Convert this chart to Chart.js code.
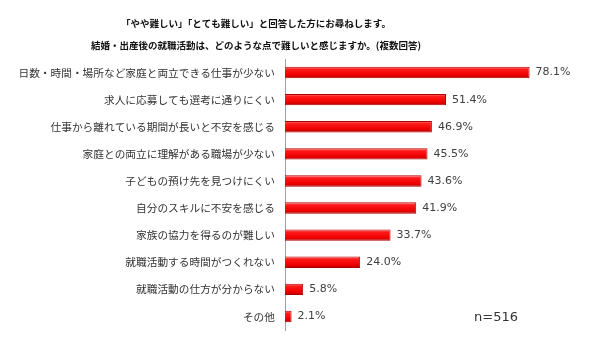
<!DOCTYPE html>
<html><head><meta charset="utf-8">
<script src="https://cdn.jsdelivr.net/npm/chart.js@4/dist/chart.umd.min.js"></script>
<style>html,body{margin:0;padding:0;background:#fff}#wrap{width:590px;height:352px}</style>
</head><body><div id="wrap"><canvas id="c" width="590" height="352"></canvas></div>
<script>
const categories = [
  "日数・時間・場所など家庭と両立できる仕事が少ない",
  "求人に応募しても選考に通りにくい",
  "仕事から離れている期間が長いと不安を感じる",
  "家庭との両立に理解がある職場が少ない",
  "子どもの預け先を見つけにくい",
  "自分のスキルに不安を感じる",
  "家族の協力を得るのが難しい",
  "就職活動する時間がつくれない",
  "就職活動の仕方が分からない",
  "その他"
];
const values = [78.1, 51.4, 46.9, 45.5, 43.6, 41.9, 33.7, 24.0, 5.8, 2.1];
const titleLines = [
  "「やや難しい」「とても難しい」と回答した方にお尋ねします。",
  "結婚・出産後の就職活動は、どのような点で難しいと感じますか。(複数回答)"
];
const sampleNote = "n=516";
const JP = '"Noto Sans CJK JP", "Noto Sans", sans-serif';

const textPlugin = {
  id: 'texts',
  afterDraw(chart) {
    const ctx = chart.ctx;
    const meta = chart.getDatasetMeta(0);
    ctx.save();
    ctx.font = 'bold 9.5px ' + JP;
    ctx.fillStyle = '#111';
    ctx.textAlign = 'center';
    ctx.textBaseline = 'middle';
    ctx.fillText(titleLines[0], 256, 23);
    ctx.fillText(titleLines[1], 256, 45);
    ctx.font = '11px "DejaVu Sans", Verdana, sans-serif';
    ctx.fillStyle = '#404040';
    ctx.textAlign = 'left';
    meta.data.forEach((bar, i) => {
      ctx.fillText(values[i].toFixed(1) + '%', bar.x + 6, bar.y);
    });
    const last = meta.data[meta.data.length - 1];
    ctx.font = '13px "DejaVu Sans", Verdana, sans-serif';
    ctx.fillStyle = '#333';
    ctx.fillText(sampleNote, 474, last.y + 1);
    ctx.restore();
  }
};

function barFill(context) {
  const chart = context.chart;
  const ys = chart.scales && chart.scales.y;
  if (!ys || context.dataIndex === undefined) return '#f20d0d';
  const yc = ys.getPixelForValue(context.dataIndex);
  if (!isFinite(yc)) return '#f20d0d';
  const g = chart.ctx.createLinearGradient(0, yc - 6, 0, yc + 6);
  g.addColorStop(0, '#ff8080');
  g.addColorStop(0.25, '#ff1a1a');
  g.addColorStop(0.7, '#ee0000');
  g.addColorStop(1, '#b00000');
  return g;
}

new Chart(document.getElementById('c'), {
  type: 'bar',
  data: {
    labels: categories,
    datasets: [{
      data: values,
      backgroundColor: barFill,
      borderColor: '#b00000',
      borderWidth: 1,
      barPercentage: 0.42,
      categoryPercentage: 1.0
    }]
  },
  options: {
    indexAxis: 'y',
    responsive: false,
    animation: false,
    layout: { padding: { left: 0, right: 20, top: 59, bottom: 22 } },
    plugins: {
      legend: { display: false },
      tooltip: { enabled: false },
      title: { display: false }
    },
    scales: {
      x: { display: false, min: 0, max: 91 },
      y: {
        afterFit(scale) { scale.width = 285; },
        grid: { display: false, drawTicks: false },
        border: { display: true, color: '#a0a0a0', width: 1 },
        ticks: { color: '#333', padding: 10, font: { family: JP, size: 10.7 } }
      }
    }
  },
  plugins: [textPlugin]
});
</script></body></html>
